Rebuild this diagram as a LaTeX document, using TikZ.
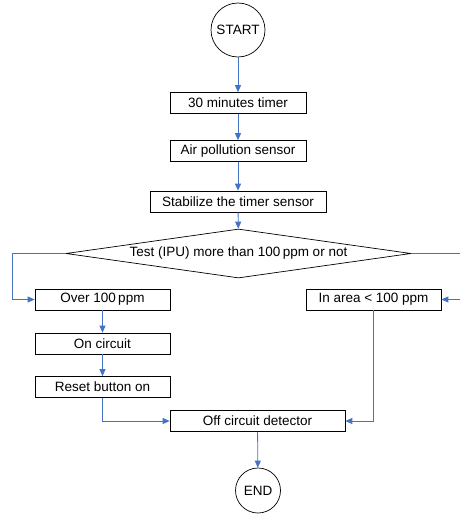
\documentclass[tikz,border=0pt]{standalone}
\usepackage{fontspec}
\setmainfont{Liberation Sans}
\usetikzlibrary{arrows.meta,shapes.geometric}
\tikzset {>=Triangle}
\definecolor{flowblue}{HTML}{4472C4}

\begin{document}
\begin{tikzpicture}[x=1pt,y=-1pt,
  font=\fontsize{13.5}{16}\selectfont,
  box/.style={draw,line width=0.7pt,inner sep=0pt,minimum height=21pt},
  term/.style={draw,circle,line width=0.7pt,inner sep=0pt},
  flow/.style={->,flowblue,line width=0.8pt,>={Triangle[length=7pt,width=6pt]}}]
\useasboundingbox (0,0) rectangle (459,514);

\node[term,minimum size=54pt] (start) at (238,30) {START};
\node[box,minimum width=136pt] (timer) at (238,103) {30 minutes timer};
\node[box,minimum width=136pt] (air) at (238,151) {Air pollution sensor};
\node[box,minimum width=176pt] (stab) at (238,201.5) {Stabilize the timer sensor};
\node[draw,diamond,line width=0.7pt,inner sep=0pt,aspect=7,
  minimum width=345pt,minimum height=49pt] (test) at (238.5,253.5)
  {Test (IPU) more than 100\,ppm or not};

\node[box,minimum width=135pt] (over) at (102.5,299.5) {Over 100\,ppm};
\node[box,minimum width=135pt] (inarea) at (373.5,299.5) {In area < 100 ppm};
\node[box,minimum width=135pt] (on) at (102.5,343.5) {On circuit};
\node[box,minimum width=135pt] (reset) at (102.5,387) {Reset button on};
\node[box,minimum width=175pt] (off) at (257.5,421) {Off circuit detector};
\node[term,minimum size=45pt] (end) at (258,490.5) {END};

% side branches
\coordinate (L) at (12,0);
\coordinate (R) at (464,0);

\draw[flow] (start) -- (timer);
\draw[flow] (timer) -- (air);
\draw[flow] (air) -- (stab);
\draw[flow] (stab) -- (test);
\draw[flow] (test.west) -- (test.west -| L) -- (over.west -| L) -- (over);
\draw[flow] (test.east) -- (test.east -| R) -- (inarea.east -| R) -- (inarea);
\draw[flow] (over) -- (on);
\draw[flow] (on) -- (reset);
\draw[flow] (reset) |- (off);
\draw[flow] (inarea) |- (off);
\draw[flow] (off) -- (end);

\end{tikzpicture}
\end{document}
